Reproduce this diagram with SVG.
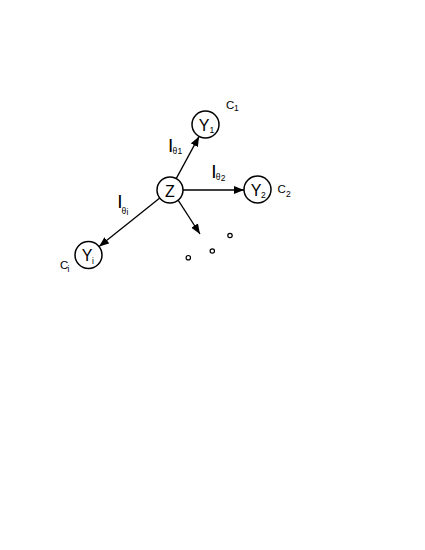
<svg xmlns="http://www.w3.org/2000/svg" width="425" height="550" viewBox="0 0 425 550">
<defs>
<style>
.node{fill:#fff;stroke:#000;stroke-width:1.5}
.lbl{font-family:"Liberation Sans",Arial,sans-serif;fill:#000}
.big{font-size:16px;text-anchor:middle}
.sub{font-size:8.5px}
.c{font-size:11.5px}
.ii{font-size:19px}
.edge{stroke:#000;stroke-width:1.3;fill:none;marker-end:url(#ah)}
.dot{fill:#fff;stroke:#000;stroke-width:1.2}
</style>
<marker id="ah" markerUnits="userSpaceOnUse" markerWidth="10" markerHeight="8" refX="10" refY="4" orient="auto">
<path d="M0,0 L10,4 L0,8 z" fill="#000"/>
</marker>
</defs>
<rect width="425" height="550" fill="#fff"/>
<g id="connectors">
<line class="edge" x1="176.2" y1="178.6" x2="199.1" y2="136.4"/>
<line class="edge" x1="183" y1="190" x2="244" y2="190"/>
<line class="edge" x1="159.8" y1="198.1" x2="99.1" y2="246.6"/>
<line class="edge" x1="178.1" y1="200.2" x2="200" y2="234"/>
</g>
<g id="node-Z">
<circle class="node" cx="170" cy="190" r="13"/>
<text class="lbl big" x="170" y="196.5">Z</text>
</g>
<g id="node-Y1">
<circle class="node" cx="205.5" cy="124.5" r="13.5"/>
<text class="lbl big" x="204" y="130.5">Y</text>
<text class="lbl sub" x="209.5" y="132.5">1</text>
<text class="lbl c" x="226" y="108.5">C</text>
<text class="lbl sub" x="234" y="111">1</text>
</g>
<g id="node-Y2">
<circle class="node" cx="257.5" cy="189.5" r="13.5"/>
<text class="lbl big" x="256" y="195.5">Y</text>
<text class="lbl sub" x="261" y="197.5">2</text>
<text class="lbl c" x="277.5" y="193.3">C</text>
<text class="lbl sub" x="286" y="196.5">2</text>
</g>
<g id="node-Yi">
<circle class="node" cx="88.5" cy="255" r="13.5"/>
<text class="lbl big" x="87" y="261">Y</text>
<text class="lbl sub" x="92" y="263.5">i</text>
<text class="lbl c" x="60" y="268.5">C</text>
<text class="lbl sub" x="67.5" y="271.5">i</text>
</g>
<g id="edge-labels">
<text class="lbl ii" x="168" y="152">I</text>
<text class="lbl sub" x="172.5" y="153.5">θ</text>
<text class="lbl sub" x="177.5" y="154">1</text>
<text class="lbl ii" x="211.3" y="178.3">I</text>
<text class="lbl sub" x="215.8" y="180">θ</text>
<text class="lbl sub" x="220.8" y="181">2</text>
<text class="lbl ii" x="117.3" y="208.3">I</text>
<text class="lbl sub" x="121.5" y="214">θ</text>
<text class="lbl sub" x="126.5" y="215">i</text>
</g>
<g id="dots">
<circle class="dot" cx="230" cy="235.5" r="2.2"/>
<circle class="dot" cx="212.3" cy="251" r="2.2"/>
<circle class="dot" cx="188.3" cy="257.7" r="2.2"/>
</g>
</svg>
